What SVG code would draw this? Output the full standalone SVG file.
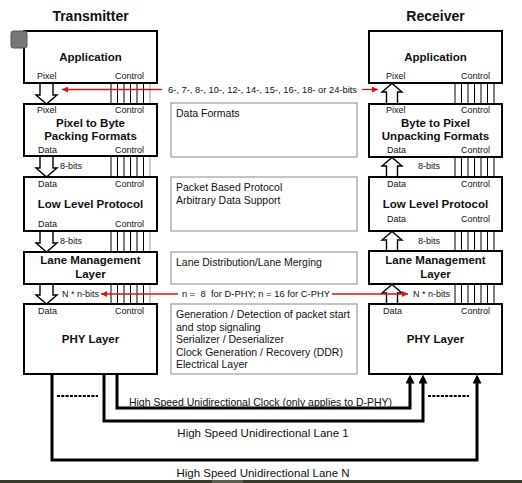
<svg xmlns="http://www.w3.org/2000/svg" width="522" height="483" viewBox="0 0 522 483">
<style>
text{font-family:"Liberation Sans",Arial,sans-serif;fill:#111}
.title{font-size:14px;font-weight:bold;text-anchor:middle}
.lbl{font-size:11.5px;font-weight:bold;text-anchor:middle}
.sm{font-size:9px}
.mid{font-size:10.5px}
.box{fill:#fff;stroke:#000;stroke-width:2}
.mbox{fill:#fff;stroke:#8a8a8a;stroke-width:1}
.hol{fill:#fff;stroke:#000;stroke-width:1.4;stroke-linejoin:miter}
.ctl{stroke:#000;stroke-width:1}
.red{stroke:#e01010;stroke-width:1.3;fill:none}
.lane{stroke:#000;stroke-width:3;fill:none}
</style>
<defs>
<marker id="ra" viewBox="0 0 10 10" refX="10" refY="5" markerWidth="8" markerHeight="6" markerUnits="userSpaceOnUse" orient="auto"><path d="M0,0L10,5L0,10z" fill="#e01010"/></marker>
<marker id="ba" viewBox="0 0 10 10" refX="6" refY="5" markerWidth="10" markerHeight="9" markerUnits="userSpaceOnUse" orient="auto"><path d="M0,0L10,5L0,10z" fill="#000"/></marker>
</defs>
<rect width="522" height="483" fill="#fff"/>
<text class="title" x="90.5" y="21">Transmitter</text>
<text class="title" x="435.5" y="21">Receiver</text>

<g id="connectors">
<g id="tx-control">
<g class="ctl">
<path d="M111,83V104M117.5,83V104M124,83V104M130.5,83V104M137,83V104M143.5,83V104"/>
<path d="M111,156V177M117.5,156V177M124,156V177M130.5,156V177M137,156V177M143.5,156V177"/>
<path d="M111,231V252M117.5,231V252M124,231V252M130.5,231V252M137,231V252M143.5,231V252"/>
<path d="M111,284V304M117.5,284V304M124,284V304M130.5,284V304M137,284V304M143.5,284V304"/>
</g>
<path d="M150,83V104M150,156V177M150,231V252M150,284V304" stroke="#999" stroke-width="1"/>
</g>
<g id="rx-control" class="ctl">
<path d="M455,83V104M461.5,83V104M468,83V104M474.5,83V104M481,83V104M487.5,83V104M494,83V104"/>
<path d="M455,157V177M461.5,157V177M468,157V177M474.5,157V177M481,157V177M487.5,157V177M494,157V177"/>
<path d="M455,231V251M461.5,231V251M468,231V251M474.5,231V251M481,231V251M487.5,231V251M494,231V251"/>
<path d="M455,284V304M461.5,284V304M468,284V304M474.5,284V304M481,284V304M487.5,284V304M494,284V304"/>
</g>
<g id="tx-data">
<path class="hol" d="M40,83V95H36L46.5,104L57,95H53V83"/>
<path class="hol" d="M40,156V168H36L46.5,177L57,168H53V156"/>
<path class="hol" d="M40,231V243H36L46.5,252L57,243H53V231"/>
<path class="hol" d="M40,284V295H36L46.5,304L57,295H53V284"/>
</g>
<g id="rx-data">
<path class="hol" d="M386.5,104V92H382L392,83.5L402,92H397.5V104"/>
<path class="hol" d="M386.5,177V166H382L392,157.5L402,166H397.5V177"/>
<path class="hol" d="M386.5,251V240H382L392,231.5L402,240H397.5V251"/>
<path class="hol" d="M386.5,304V293H382L392,284.5L402,293H397.5V304"/>
</g>
<text class="sm" x="60" y="169">8-bits</text>
<text class="sm" x="60" y="244">8-bits</text>
<text class="sm" x="62" y="297">N * n-bits</text>
<text class="sm" x="418" y="169">8-bits</text>
<text class="sm" x="418" y="244">8-bits</text>
<text class="sm" x="413" y="297">N * n-bits</text>
<g id="red-pixel">
<path class="red" d="M162,89.5H62" marker-end="url(#ra)"/>
<text class="sm" x="168" y="92.5" textLength="189" lengthAdjust="spacingAndGlyphs">6-, 7-, 8-, 10-, 12-, 14-, 15-, 16-, 18- or 24-bits</text>
<path class="red" d="M362,89.5H378" marker-end="url(#ra)"/>
</g>
<g id="red-lanes">
<path class="red" d="M178,294H101" marker-end="url(#ra)"/>
<text class="sm" x="182" y="297" xml:space="preserve" textLength="148" lengthAdjust="spacingAndGlyphs">n =  8  for D-PHY; n = 16 for C-PHY</text>
<path class="red" d="M332,294H408" marker-end="url(#ra)"/>
</g>
<g id="lanes">
<path class="lane" d="M117,374V408H410V378" marker-end="url(#ba)"/>
<path class="lane" d="M104,374V421H423V378" marker-end="url(#ba)"/>
<path class="lane" d="M52,374V460H477V378" marker-end="url(#ba)"/>
<path d="M57,396H98M428,396H469" stroke="#000" stroke-width="2" stroke-dasharray="3,1.3"/>
<text style="font-size:10.5px" x="260.5" y="405.5" text-anchor="middle">High Speed Unidirectional Clock (only applies to D-PHY)</text>
<text style="font-size:11.5px" x="263" y="437" text-anchor="middle">High Speed Unidirectional Lane 1</text>
<text style="font-size:11.5px" x="263" y="477" text-anchor="middle">High Speed Unidirectional Lane N</text>
</g>
</g>

<g id="tx-application">
<rect class="box" x="24" y="31" width="133" height="52"/>
<text class="lbl" x="90.5" y="61">Application</text>
<text class="sm" x="37" y="79">Pixel</text>
<text class="sm" x="115" y="79">Control</text>
<rect x="11" y="31" width="16" height="17" rx="2.5" fill="#777" stroke="#555" stroke-width="1"/>
</g>
<g id="tx-packing">
<rect class="box" x="24" y="104" width="133" height="52"/>
<text class="sm" x="37" y="113">Pixel</text>
<text class="sm" x="115" y="113">Control</text>
<text class="lbl" x="90.5" y="127">Pixel to Byte</text>
<text class="lbl" x="90.5" y="140">Packing Formats</text>
<text class="sm" x="38" y="153">Data</text>
<text class="sm" x="115" y="153">Control</text>
</g>
<g id="tx-llp">
<rect class="box" x="24" y="177" width="133" height="54"/>
<text class="sm" x="38" y="187">Data</text>
<text class="sm" x="115" y="187">Control</text>
<text class="lbl" x="90.5" y="208">Low Level Protocol</text>
<text class="sm" x="38" y="227">Data</text>
<text class="sm" x="115" y="227">Control</text>
</g>
<g id="tx-lane-mgmt">
<rect class="box" x="24" y="252" width="133" height="32"/>
<text class="lbl" x="90.5" y="264">Lane Management</text>
<text class="lbl" x="90.5" y="278">Layer</text>
</g>
<g id="tx-phy">
<rect class="box" x="24" y="304" width="133" height="70"/>
<text class="sm" x="38" y="314">Data</text>
<text class="sm" x="115" y="314">Control</text>
<text class="lbl" x="90.5" y="343">PHY Layer</text>
</g>

<g id="rx-application">
<rect class="box" x="369" y="31" width="133" height="52"/>
<text class="lbl" x="435.5" y="61">Application</text>
<text class="sm" x="386" y="79">Pixel</text>
<text class="sm" x="461" y="79">Control</text>
</g>
<g id="rx-unpacking">
<rect class="box" x="369" y="104" width="133" height="53"/>
<text class="sm" x="386" y="113">Pixel</text>
<text class="sm" x="461" y="113">Control</text>
<text class="lbl" x="435.5" y="127">Byte to Pixel</text>
<text class="lbl" x="435.5" y="140">Unpacking Formats</text>
<text class="sm" x="387" y="153">Data</text>
<text class="sm" x="461" y="153">Control</text>
</g>
<g id="rx-llp">
<rect class="box" x="369" y="177" width="133" height="54"/>
<text class="sm" x="387" y="187">Data</text>
<text class="sm" x="461" y="187">Control</text>
<text class="lbl" x="435.5" y="208">Low Level Protocol</text>
<text class="sm" x="387" y="222">Data</text>
<text class="sm" x="461" y="222">Control</text>
</g>
<g id="rx-lane-mgmt">
<rect class="box" x="369" y="251" width="133" height="33"/>
<text class="lbl" x="435.5" y="264">Lane Management</text>
<text class="lbl" x="435.5" y="278">Layer</text>
</g>
<g id="rx-phy">
<rect class="box" x="369" y="304" width="133" height="70"/>
<text class="sm" x="383" y="314">Data</text>
<text class="sm" x="461" y="314">Control</text>
<text class="lbl" x="435.5" y="343">PHY Layer</text>
</g>

<g id="desc-formats">
<rect class="mbox" x="171" y="103" width="186" height="54"/>
<text class="mid" x="176" y="117">Data Formats</text>
</g>
<g id="desc-protocol">
<rect class="mbox" x="171" y="177" width="186" height="54"/>
<text class="mid" x="176" y="191">Packet Based Protocol</text>
<text class="mid" x="176" y="204">Arbitrary Data Support</text>
</g>
<g id="desc-lanes">
<rect class="mbox" x="171" y="252" width="186" height="32"/>
<text class="mid" x="176" y="266">Lane Distribution/Lane Merging</text>
</g>
<g id="desc-phy">
<rect class="mbox" x="171" y="304" width="186" height="70"/>
<text class="mid" x="176" y="318">Generation / Detection of packet start</text>
<text class="mid" x="176" y="330.5">and stop signaling</text>
<text class="mid" x="176" y="343">Serializer / Deserializer</text>
<text class="mid" x="176" y="355.5">Clock Generation / Recovery (DDR)</text>
<text class="mid" x="176" y="368">Electrical Layer</text>
</g>
<rect x="0" y="480" width="522" height="3" fill="#3a3a2c"/>
<rect x="212" y="480" width="31" height="3" fill="#5e5e50"/>
</svg>
